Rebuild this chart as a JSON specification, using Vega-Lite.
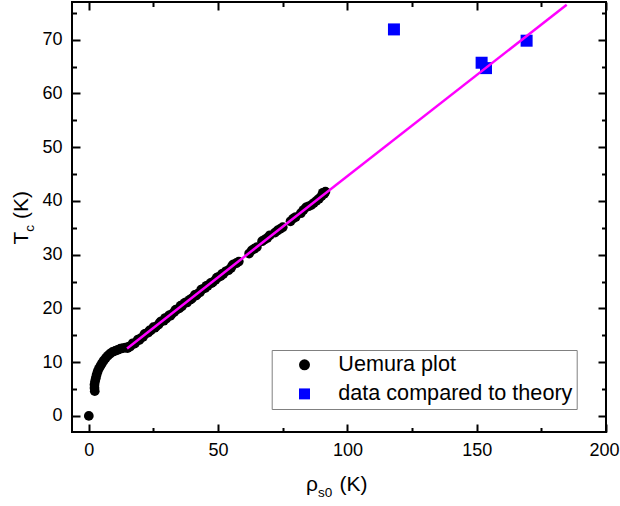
{
  "$schema": "https://vega.github.io/schema/vega-lite/v6.json",
  "width": 534,
  "height": 430,
  "autosize": {"type": "none"},
  "padding": {"left": 72, "top": 2, "right": 14, "bottom": 74},
  "background": "white",
  "config": {
    "font": "Liberation Sans",
    "view": {"stroke": "black", "strokeWidth": 2},
    "legend": {
      "orient": "none",
      "legendX": 199.7,
      "legendY": 348,
      "padding": 4,
      "rowPadding": 6.1,
      "symbolOffset": 18,
      "labelOffset": 23,
      "labelFontSize": 21.6,
      "labelColor": "black",
      "labelLimit": 400,
      "symbolSize": 120,
      "symbolStrokeWidth": 0,
      "strokeColor": "#808080",
      "fillColor": "white",
      "cornerRadius": 0
    }
  },
  "datasets": {
    "uemura": [
      {"x": 2.3, "y": 4.6, "series": "Uemura plot"},
      {"x": 2.2, "y": 5.2, "series": "Uemura plot"},
      {"x": 2.2, "y": 5.8, "series": "Uemura plot"},
      {"x": 2.4, "y": 6.4, "series": "Uemura plot"},
      {"x": 2.7, "y": 7.0, "series": "Uemura plot"},
      {"x": 3.0, "y": 7.6, "series": "Uemura plot"},
      {"x": 3.4, "y": 8.2, "series": "Uemura plot"},
      {"x": 3.9, "y": 8.8, "series": "Uemura plot"},
      {"x": 4.5, "y": 9.3, "series": "Uemura plot"},
      {"x": 5.1, "y": 9.8, "series": "Uemura plot"},
      {"x": 5.8, "y": 10.3, "series": "Uemura plot"},
      {"x": 6.6, "y": 10.8, "series": "Uemura plot"},
      {"x": 7.4, "y": 11.2, "series": "Uemura plot"},
      {"x": 8.3, "y": 11.6, "series": "Uemura plot"},
      {"x": 9.2, "y": 11.9, "series": "Uemura plot"},
      {"x": 10.2, "y": 12.1, "series": "Uemura plot"},
      {"x": 11.2, "y": 12.3, "series": "Uemura plot"},
      {"x": 12.2, "y": 12.5, "series": "Uemura plot"},
      {"x": 13.2, "y": 12.6, "series": "Uemura plot"},
      {"x": 14.2, "y": 12.7, "series": "Uemura plot"},
      {"x": 15, "y": 12.6, "series": "Uemura plot"},
      {"x": 15.5, "y": 12.9, "series": "Uemura plot"},
      {"x": 16, "y": 12.9, "series": "Uemura plot"},
      {"x": 17, "y": 13.5, "series": "Uemura plot"},
      {"x": 17.5, "y": 13.4, "series": "Uemura plot"},
      {"x": 18, "y": 13.6, "series": "Uemura plot"},
      {"x": 19, "y": 14.2, "series": "Uemura plot"},
      {"x": 19.5, "y": 14.1, "series": "Uemura plot"},
      {"x": 20, "y": 14.4, "series": "Uemura plot"},
      {"x": 21, "y": 14.7, "series": "Uemura plot"},
      {"x": 21.5, "y": 15.2, "series": "Uemura plot"},
      {"x": 22, "y": 15.3, "series": "Uemura plot"},
      {"x": 23, "y": 15.5, "series": "Uemura plot"},
      {"x": 23.5, "y": 15.9, "series": "Uemura plot"},
      {"x": 24, "y": 15.9, "series": "Uemura plot"},
      {"x": 25, "y": 16.5, "series": "Uemura plot"},
      {"x": 25.5, "y": 16.4, "series": "Uemura plot"},
      {"x": 26, "y": 16.6, "series": "Uemura plot"},
      {"x": 27, "y": 17.0, "series": "Uemura plot"},
      {"x": 27.5, "y": 17.4, "series": "Uemura plot"},
      {"x": 28, "y": 17.6, "series": "Uemura plot"},
      {"x": 29, "y": 17.7, "series": "Uemura plot"},
      {"x": 29.5, "y": 18.2, "series": "Uemura plot"},
      {"x": 30, "y": 18.1, "series": "Uemura plot"},
      {"x": 31, "y": 18.7, "series": "Uemura plot"},
      {"x": 31.5, "y": 18.6, "series": "Uemura plot"},
      {"x": 32, "y": 18.9, "series": "Uemura plot"},
      {"x": 33, "y": 19.3, "series": "Uemura plot"},
      {"x": 33.5, "y": 19.7, "series": "Uemura plot"},
      {"x": 34, "y": 19.8, "series": "Uemura plot"},
      {"x": 35, "y": 20.0, "series": "Uemura plot"},
      {"x": 35.5, "y": 20.5, "series": "Uemura plot"},
      {"x": 36, "y": 20.4, "series": "Uemura plot"},
      {"x": 37, "y": 21.0, "series": "Uemura plot"},
      {"x": 37.5, "y": 21.1, "series": "Uemura plot"},
      {"x": 38, "y": 21.1, "series": "Uemura plot"},
      {"x": 39, "y": 21.6, "series": "Uemura plot"},
      {"x": 39.5, "y": 21.7, "series": "Uemura plot"},
      {"x": 40, "y": 21.9, "series": "Uemura plot"},
      {"x": 41, "y": 22.5, "series": "Uemura plot"},
      {"x": 41.5, "y": 22.4, "series": "Uemura plot"},
      {"x": 42, "y": 22.7, "series": "Uemura plot"},
      {"x": 43, "y": 23.0, "series": "Uemura plot"},
      {"x": 43.5, "y": 23.5, "series": "Uemura plot"},
      {"x": 44, "y": 23.6, "series": "Uemura plot"},
      {"x": 45, "y": 23.8, "series": "Uemura plot"},
      {"x": 45.5, "y": 24.2, "series": "Uemura plot"},
      {"x": 46, "y": 24.2, "series": "Uemura plot"},
      {"x": 47, "y": 24.7, "series": "Uemura plot"},
      {"x": 47.5, "y": 24.7, "series": "Uemura plot"},
      {"x": 48, "y": 24.9, "series": "Uemura plot"},
      {"x": 49, "y": 25.3, "series": "Uemura plot"},
      {"x": 49.5, "y": 25.7, "series": "Uemura plot"},
      {"x": 50, "y": 25.8, "series": "Uemura plot"},
      {"x": 51, "y": 26.0, "series": "Uemura plot"},
      {"x": 51.5, "y": 26.4, "series": "Uemura plot"},
      {"x": 52, "y": 26.4, "series": "Uemura plot"},
      {"x": 53, "y": 26.9, "series": "Uemura plot"},
      {"x": 54, "y": 27.1, "series": "Uemura plot"},
      {"x": 55, "y": 27.5, "series": "Uemura plot"},
      {"x": 55.5, "y": 28.0, "series": "Uemura plot"},
      {"x": 56, "y": 28.2, "series": "Uemura plot"},
      {"x": 57, "y": 28.4, "series": "Uemura plot"},
      {"x": 58, "y": 28.7, "series": "Uemura plot"},
      {"x": 62, "y": 30.2, "series": "Uemura plot"},
      {"x": 63, "y": 30.8, "series": "Uemura plot"},
      {"x": 64, "y": 31.1, "series": "Uemura plot"},
      {"x": 65, "y": 31.4, "series": "Uemura plot"},
      {"x": 67, "y": 32.5, "series": "Uemura plot"},
      {"x": 68, "y": 32.8, "series": "Uemura plot"},
      {"x": 69, "y": 33.1, "series": "Uemura plot"},
      {"x": 70, "y": 33.6, "series": "Uemura plot"},
      {"x": 72, "y": 34.1, "series": "Uemura plot"},
      {"x": 73, "y": 34.5, "series": "Uemura plot"},
      {"x": 74, "y": 34.8, "series": "Uemura plot"},
      {"x": 75, "y": 35.1, "series": "Uemura plot"},
      {"x": 78, "y": 36.2, "series": "Uemura plot"},
      {"x": 79, "y": 36.7, "series": "Uemura plot"},
      {"x": 80, "y": 37.0, "series": "Uemura plot"},
      {"x": 82, "y": 37.7, "series": "Uemura plot"},
      {"x": 83, "y": 38.3, "series": "Uemura plot"},
      {"x": 84, "y": 38.8, "series": "Uemura plot"},
      {"x": 85, "y": 39.0, "series": "Uemura plot"},
      {"x": 86, "y": 39.2, "series": "Uemura plot"},
      {"x": 87, "y": 39.6, "series": "Uemura plot"},
      {"x": 88, "y": 40.0, "series": "Uemura plot"},
      {"x": 89, "y": 40.4, "series": "Uemura plot"},
      {"x": 90, "y": 40.9, "series": "Uemura plot"},
      {"x": 90.5, "y": 41.5, "series": "Uemura plot"},
      {"x": 91, "y": 41.3, "series": "Uemura plot"},
      {"x": 91.5, "y": 41.7, "series": "Uemura plot"}
    ],
    "origin": [
      {"x": 0, "y": 0, "series": "Uemura plot"}
    ],
    "theory": [
      {"x": 118.0, "y": 71.9, "series": "data compared to theory"},
      {"x": 151.9, "y": 65.7, "series": "data compared to theory"},
      {"x": 153.6, "y": 64.7, "series": "data compared to theory"},
      {"x": 169.3, "y": 69.8, "series": "data compared to theory"}
    ],
    "fit": [
      {"x": 14.8, "y": 12.55},
      {"x": 184.8, "y": 76.5}
    ]
  },
  "resolve": {"axis": {"x": "independent", "y": "independent"}},
  "layer": [
    {
      "data": {"name": "uemura"},
      "mark": {"type": "point", "filled": true, "opacity": 1, "size": 95},
      "encoding": {
        "x": {
          "field": "x", "type": "quantitative",
          "scale": {"domain": [-6.5, 200], "nice": false, "zero": false},
          "axis": {
            "orient": "bottom",
            "values": [0, 25, 50, 75, 100, 125, 150, 175, 200],
            "labelExpr": "datum.value % 50 === 0 ? datum.label : ''",
            "tickSize": {"condition": {"test": "datum.value % 50 === 0", "value": -8}, "value": -4.5},
            "tickWidth": 2, "tickColor": "black",
            "domain": false, "grid": false,
            "labelFontSize": 18, "labelColor": "black", "labelPadding": 17.5, "labelFlush": false,
            "labelOffset": {"condition": {"test": "datum.value === 200", "value": -2}, "value": 0},
            "title": "ρ", "titleX": 233.5, "titleY": 58,
            "titleAlign": "left", "titleBaseline": "alphabetic",
            "titleFontSize": 21, "titleFontWeight": "normal", "titleColor": "black"
          }
        },
        "y": {
          "field": "y", "type": "quantitative",
          "scale": {"domain": [-3, 77], "nice": false, "zero": false},
          "axis": {
            "orient": "left",
            "values": [0, 5, 10, 15, 20, 25, 30, 35, 40, 45, 50, 55, 60, 65, 70, 75],
            "labelExpr": "datum.value % 10 === 0 ? datum.label : ''",
            "tickSize": {"condition": {"test": "datum.value % 10 === 0", "value": -8}, "value": -4.5},
            "tickWidth": 2, "tickColor": "black",
            "domain": false, "grid": false,
            "labelFontSize": 18, "labelColor": "black", "labelPadding": 18, "labelFlush": false,
            "title": "T", "titleX": -45, "titleY": 242, "titleAngle": -90,
            "titleAlign": "left", "titleBaseline": "alphabetic",
            "titleFontSize": 21, "titleFontWeight": "normal", "titleColor": "black"
          }
        },
        "color": {
          "field": "series", "type": "nominal",
          "scale": {"domain": ["Uemura plot", "data compared to theory"], "range": ["black", "#0000ff"]},
          "legend": {"title": null}
        },
        "shape": {
          "field": "series", "type": "nominal",
          "scale": {"domain": ["Uemura plot", "data compared to theory"], "range": ["circle", "square"]},
          "legend": {"title": null}
        }
      }
    },
    {
      "data": {"name": "theory"},
      "mark": {"type": "point", "filled": true, "opacity": 1, "size": 144},
      "encoding": {
        "x": {
          "field": "x", "type": "quantitative",
          "scale": {"domain": [-6.5, 200], "nice": false, "zero": false},
          "axis": {
            "orient": "top",
            "values": [0, 25, 50, 75, 100, 125, 150, 175, 200],
            "labels": false,
            "tickSize": {"condition": {"test": "datum.value % 50 === 0", "value": -8}, "value": -4.5},
            "tickWidth": 2, "tickColor": "black",
            "domain": false, "grid": false, "title": null
          }
        },
        "y": {
          "field": "y", "type": "quantitative",
          "scale": {"domain": [-3, 77], "nice": false, "zero": false},
          "axis": {
            "orient": "right",
            "values": [0, 5, 10, 15, 20, 25, 30, 35, 40, 45, 50, 55, 60, 65, 70, 75],
            "labels": false,
            "tickSize": {"condition": {"test": "datum.value % 10 === 0", "value": -8}, "value": -4.5},
            "tickWidth": 2, "tickColor": "black",
            "domain": false, "grid": false, "title": null
          }
        },
        "color": {
          "field": "series", "type": "nominal",
          "scale": {"domain": ["Uemura plot", "data compared to theory"], "range": ["black", "#0000ff"]},
          "legend": {"title": null}
        },
        "shape": {
          "field": "series", "type": "nominal",
          "scale": {"domain": ["Uemura plot", "data compared to theory"], "range": ["circle", "square"]},
          "legend": {"title": null}
        }
      }
    },
    {
      "data": {"name": "fit"},
      "mark": {"type": "line", "color": "#ff00ff", "strokeWidth": 2.5},
      "encoding": {
        "x": {
          "field": "x", "type": "quantitative",
          "scale": {"domain": [-6.5, 200], "nice": false, "zero": false},
          "axis": {
            "orient": "bottom", "labels": false, "ticks": false, "domain": false, "grid": false,
            "title": "s0", "titleX": 245.6, "titleY": 64,
            "titleAlign": "left", "titleBaseline": "alphabetic",
            "titleFontSize": 13.5, "titleFontWeight": "normal", "titleColor": "black"
          }
        },
        "y": {
          "field": "y", "type": "quantitative",
          "scale": {"domain": [-3, 77], "nice": false, "zero": false},
          "axis": {
            "orient": "left", "labels": false, "ticks": false, "domain": false, "grid": false,
            "title": "c", "titleX": -39, "titleY": 229.2, "titleAngle": -90,
            "titleAlign": "left", "titleBaseline": "alphabetic",
            "titleFontSize": 13.5, "titleFontWeight": "normal", "titleColor": "black"
          }
        }
      }
    },
    {
      "data": {"name": "origin"},
      "mark": {"type": "point", "filled": true, "opacity": 1, "size": 95},
      "encoding": {
        "x": {
          "field": "x", "type": "quantitative",
          "scale": {"domain": [-6.5, 200], "nice": false, "zero": false},
          "axis": {
            "orient": "bottom", "labels": false, "ticks": false, "domain": false, "grid": false,
            "title": "(K)", "titleX": 267, "titleY": 58,
            "titleAlign": "left", "titleBaseline": "alphabetic",
            "titleFontSize": 21, "titleFontWeight": "normal", "titleColor": "black"
          }
        },
        "y": {
          "field": "y", "type": "quantitative",
          "scale": {"domain": [-3, 77], "nice": false, "zero": false},
          "axis": {
            "orient": "left", "labels": false, "ticks": false, "domain": false, "grid": false,
            "title": "(K)", "titleX": -45, "titleY": 216.6, "titleAngle": -90,
            "titleAlign": "left", "titleBaseline": "alphabetic",
            "titleFontSize": 21, "titleFontWeight": "normal", "titleColor": "black"
          }
        },
        "color": {
          "field": "series", "type": "nominal",
          "scale": {"domain": ["Uemura plot", "data compared to theory"], "range": ["black", "#0000ff"]},
          "legend": {"title": null}
        },
        "shape": {
          "field": "series", "type": "nominal",
          "scale": {"domain": ["Uemura plot", "data compared to theory"], "range": ["circle", "square"]},
          "legend": {"title": null}
        }
      }
    }
  ]
}
